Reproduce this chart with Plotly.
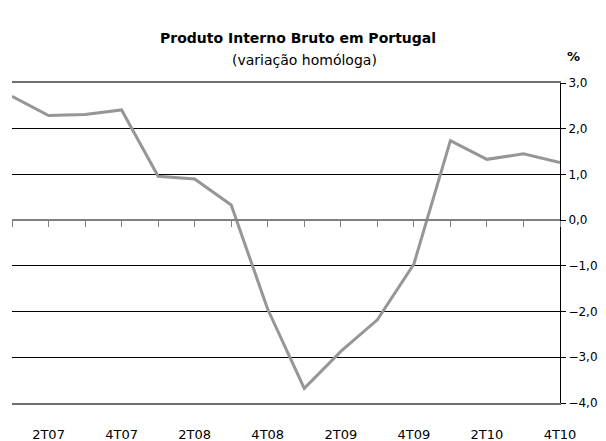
import plotly.graph_objects as go

quarters = ["1T07", "2T07", "3T07", "4T07", "1T08", "2T08", "3T08", "4T08",
            "1T09", "2T09", "3T09", "4T09", "1T10", "2T10", "3T10", "4T10"]
gdp_yoy = [2.71, 2.29, 2.31, 2.41, 0.96, 0.90, 0.33, -1.95,
           -3.68, -2.87, -2.18, -0.96, 1.74, 1.33, 1.45, 1.26]
shown_labels = ["", "2T07", "", "4T07", "", "2T08", "", "4T08",
                "", "2T09", "", "4T09", "", "2T10", "", "4T10"]
y_ticks = [3, 2, 1, 0, -1, -2, -3, -4]

FONT = "DejaVu Sans"

fig = go.Figure()
fig.add_trace(go.Scatter(x=quarters, y=gdp_yoy, mode="lines",
                         line=dict(color="#969696", width=3),
                         xaxis="x2", yaxis="y", hoverinfo="skip"))
fig.add_trace(go.Scatter(x=quarters, y=gdp_yoy, mode="lines",
                         line=dict(color="rgba(0,0,0,0)", width=0),
                         xaxis="x", yaxis="y", hoverinfo="skip"))

fig.update_layout(
    width=606, height=441,
    margin=dict(l=12, r=46, t=83, b=38),
    paper_bgcolor="white", plot_bgcolor="white",
    showlegend=False,
    separators=",.",
    font=dict(family=FONT, size=13, color="black"),
    xaxis=dict(
        type="category", range=[0, 15], automargin=False,
        tickmode="array", tickvals=quarters, ticktext=shown_labels,
        showgrid=False, zeroline=False,
        showline=True, mirror=True, linecolor="#707070", linewidth=1.5,
        ticks="",
        ticklabelstandoff=19,
        tickfont=dict(family=FONT, size=13, color="black"),
    ),
    xaxis2=dict(
        type="category", range=[0, 15], overlaying="x", anchor="free",
        position=4 / 7, side="bottom", automargin=False,
        tickmode="array", tickvals=quarters, showticklabels=False,
        ticks="outside", ticklen=6, tickcolor="#808080", tickwidth=1,
        showline=True, linecolor="#808080", linewidth=2,
        showgrid=False, zeroline=False,
    ),
    yaxis=dict(
        side="right", range=[-4, 3], tickmode="array", tickvals=y_ticks,
        tickformat=".1f", automargin=False,
        showgrid=True, gridcolor="black", gridwidth=1,
        zeroline=False,
        showline=True, linecolor="black", linewidth=1,
        ticks="outside", ticklen=5, tickcolor="black",
        tickfont=dict(family=FONT, size=12, color="black"),
    ),
    annotations=[
        dict(text="<b>Produto Interno Bruto em Portugal</b>", xref="paper", yref="paper",
             x=(298 - 12) / 548, y=1 + 45 / 320, xanchor="center", yanchor="middle",
             showarrow=False, font=dict(family=FONT, size=14, color="black")),
        dict(text="(variação homóloga)", xref="paper", yref="paper",
             x=(304 - 12) / 548, y=1 + 23 / 320, xanchor="center", yanchor="middle",
             showarrow=False, font=dict(family=FONT, size=14, color="black")),
        dict(text="<b>%</b>", xref="paper", yref="paper",
             x=(573 - 12) / 548, y=1 + 26 / 320, xanchor="center", yanchor="middle",
             showarrow=False, font=dict(family=FONT, size=13, color="black")),
    ],
)

fig.write_html("out.html", config={"displayModeBar": False},
               post_script="document.body.style.margin='0px';document.body.style.overflow='hidden';")
